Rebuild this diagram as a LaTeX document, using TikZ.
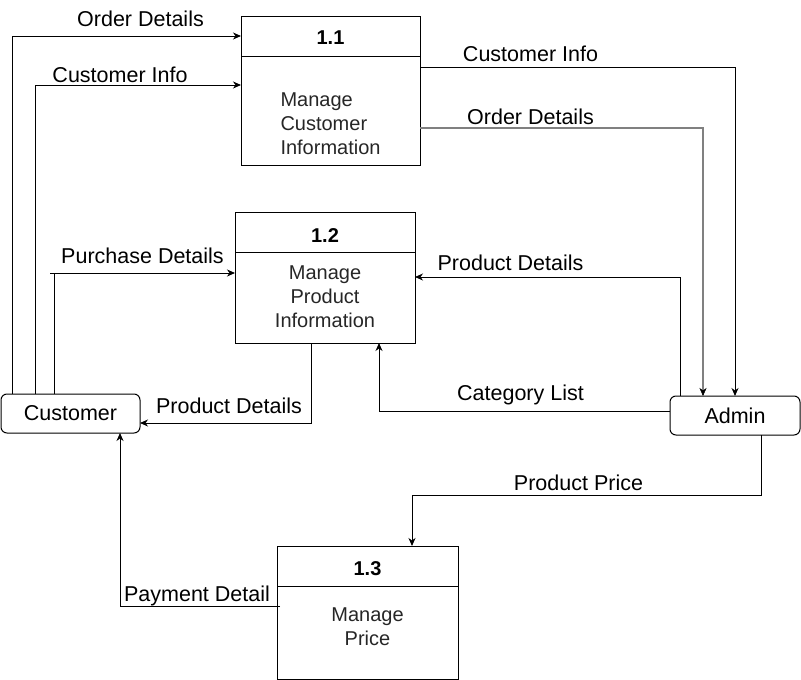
\documentclass[tikz,border=0pt]{standalone}
\usepackage{fontspec}
\setmainfont{Liberation Sans}
\usetikzlibrary{arrows.meta}
\begin{document}
\begin{tikzpicture}[x=1pt,y=-1pt,line width=1pt,
  arr/.style={-{Stealth[length=8pt,width=7pt,inset=2.5pt]}},
  proc/.style={draw,rectangle,inner sep=0pt,outer sep=0pt},
  ent/.style={draw,rectangle,rounded corners=6pt,inner sep=0pt,outer sep=0pt,minimum width=139pt,minimum height=39pt,font=\fontsize{21.5}{24}\selectfont},
  lbl/.style={anchor=base,inner sep=0pt,font=\fontsize{21.5}{24}\selectfont},
  ttl/.style={anchor=base,inner sep=0pt,font=\fontsize{20}{24}\selectfont\bfseries},
  body/.style={align=center,inner sep=0pt,font=\fontsize{20}{24}\selectfont,text=black!85}]
\useasboundingbox (0,0) rectangle (801,680);
% processes
\node[proc,minimum width=179pt,minimum height=149pt] (b11) at (330.5,90.5) {};
\node[proc,minimum width=180pt,minimum height=131pt] (b12) at (325,277.5) {};
\node[proc,minimum width=181pt,minimum height=133pt] (b13) at (367.5,612.5) {};
\draw ([yshift=-40pt]b11.north west) -- ([yshift=-40pt]b11.north east);
\draw ([yshift=-40pt]b12.north west) -- ([yshift=-40pt]b12.north east);
\draw ([yshift=-40pt]b13.north west) -- ([yshift=-40pt]b13.north east);
\node[ttl] (t11) at (330.5,45) {1.1};
\node[ttl] (t12) at (325,242) {1.2};
\node[ttl] (t13) at (367.5,575) {1.3};
\node[body,align=left,anchor=west] (m11) at (280,124) {Manage\\Customer\\Information};
\node[body] (m12) at (325,297) {Manage\\Product\\Information};
\node[body] (m13) at (367.5,627) {Manage\\Price};
% entities
\node[ent] (cust) at (70.5,413.5) {Customer};
\node[ent,minimum width=130pt] (admin) at (735,415.5) {Admin};
% connectors
\draw[arr] ([xshift=11pt]cust.north west) |- (b11.west |- 0,36);
\draw[arr] ([xshift=34pt]cust.north west) |- (b11.west |- 0,85);
\coordinate (pd) at (50,273);
\draw ([xshift=53pt]cust.north west) |- (pd);
\draw[arr] (pd) -- (b12.west |- pd);
\draw[arr] (b12.south -| 311,0) |- (cust.east |- 0,423);
\draw[arr] (b11.east |- 0,67) -| (admin.north);
\draw[-{Stealth[length=8pt,width=7pt,inset=2.5pt,color=black,line width=0.5pt]},draw=black!50,line width=2pt] (b11.east |- 0,128) -| ([xshift=-32pt]admin.north);
\draw[arr] ([xshift=-55pt]admin.north) |- (b12.east |- 0,277);
\draw[arr] (admin.west |- 0,411) -| (b12.south -| 379,0);
\coordinate (pp) at (761,495);
\draw[arr] (admin.south -| pp) -- (pp) -| (b13.north -| 412,0);
\coordinate (pay) at (280,606);
\draw[arr] (pay) -| (cust.south -| 120,0);
% labels
\node[lbl] (l1) at (140.5,27) {Order Details};
\node[lbl] (l2) at (120,82) {Customer Info};
\node[lbl] (l3) at (142.5,263) {Purchase Details};
\node[lbl] (l4) at (229,413) {Product Details};
\node[lbl] (l5) at (530.5,61) {Customer Info};
\node[lbl] (l6) at (530.5,124) {Order Details};
\node[lbl] (l7) at (510.5,270) {Product Details};
\node[lbl] (l8) at (520.5,400) {Category List};
\node[lbl] (l9) at (578.5,490) {Product Price};
\node[lbl] (l10) at (197,601) {Payment Detail};
\end{tikzpicture}
\end{document}
